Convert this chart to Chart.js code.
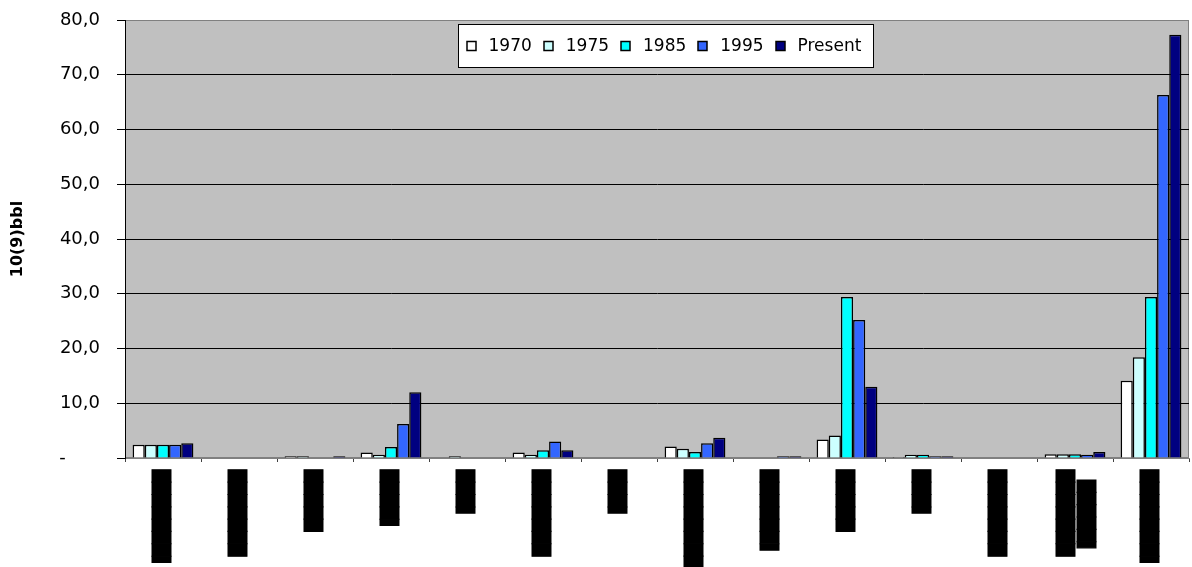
<!DOCTYPE html>
<html>
<head>
<meta charset="utf-8">
<script src="https://cdn.jsdelivr.net/npm/chart.js@4.4.1/dist/chart.umd.min.js"></script>
<style>
  html, body { margin: 0; padding: 0; background: #fff; }
  #wrap { width: 1192px; height: 567px; position: relative; }
</style>
</head>
<body>
<div id="wrap"><canvas id="chart"></canvas></div>
<script>
// category labels are unreadable in the source (solid black), kept as block glyphs
const categories = [
  '▐███████',
  '███████',
  '█████',
  '▐████',
  '▐███',
  '███████',
  '▐███',
  '████████',
  '▐██████',
  '█████',
  '▐███',
  '███████',
  ['███████', '▐█████\u00a0\u00a0'],
  '▐███████'
];

const yTicks = [0, 10, 20, 30, 40, 50, 60, 70, 80];

const v1970    = [2.4, 0, 0.3, 1.0, 0,   1.0, 0, 2.1, 0,   3.4,  0.2, 0, 0.7, 14.1];
const v1975    = [2.4, 0, 0.3, 0.6, 0.3, 0.6, 0, 1.7, 0,   4.1,  0.6, 0, 0.7, 18.4];
const v1985    = [2.4, 0, 0,   2.0, 0,   1.4, 0, 1.1, 0,   29.4, 0.6, 0, 0.7, 29.4];
const v1995    = [2.4, 0, 0,   6.2, 0,   3.0, 0, 2.7, 0.3, 25.2, 0.3, 0, 0.6, 66.3];
const vPresent = [2.7, 0, 0.3, 12.0, 0,  1.4, 0, 3.7, 0.3, 13.0, 0.3, 0, 1.1, 77.3];

const seriesNames = ['1970', '1975', '1985', '1995', 'Present'];
const seriesColors = ['#ffffff', '#ccffff', '#00ffff', '#3366ff', '#000080'];
const seriesValues = [v1970, v1975, v1985, v1995, vPresent];

const plotBg = {
  id: 'plotBg',
  beforeDraw(chart) {
    const { ctx, chartArea: a } = chart;
    ctx.save();
    ctx.fillStyle = '#c0c0c0';
    ctx.fillRect(a.left, a.top, a.right - a.left, a.bottom - a.top);
    ctx.strokeStyle = '#808080';
    ctx.lineWidth = 1;
    ctx.strokeRect(a.left + 0.5, a.top + 0.5, a.right - a.left - 1, a.bottom - a.top - 1);
    ctx.restore();

    // the two-line label sits centred on its tick in the source
    const xs = chart.scales.x;
    const items = xs.getLabelItems();
    items.forEach(it => {
      if (Array.isArray(it.label) && !it._shifted) {
        it.options.translation[0] -= 8;
        it._shifted = true;
      }
    });
  }
};

// legend drawn as a framed box inside the plot, like the source
const legendBox = {
  id: 'legendBox',
  afterDraw(chart) {
    const { ctx, chartArea: a } = chart;
    ctx.save();
    ctx.font = '17px "DejaVu Sans"';
    const items = chart.data.datasets.map(ds => ({
      text: ds.label,
      fill: ds.backgroundColor,
      w: ctx.measureText(ds.label).width
    }));
    const box = 9, toText = 13, gap = 12, padL = 8, padR = 12, h = 43;
    const inner = items.reduce((s, it) => s + box + toText + it.w, 0) + gap * (items.length - 1);
    const total = padL + inner + padR;
    const cx = (a.left + a.right) / 2 + 8;
    const x0 = Math.round(cx - total / 2) + 0.5;
    const y0 = Math.round(a.top + 4) + 0.5;
    ctx.fillStyle = '#ffffff';
    ctx.fillRect(x0, y0, total, h);
    ctx.strokeStyle = '#000000';
    ctx.lineWidth = 1;
    ctx.strokeRect(x0, y0, Math.round(total), h);
    let x = x0 + padL;
    const base = y0 + 26;
    items.forEach(it => {
      ctx.fillStyle = it.fill;
      ctx.fillRect(Math.round(x), base - box, box, box);
      ctx.lineWidth = 1.5;
      ctx.strokeRect(Math.round(x), base - box, box, box);
      ctx.fillStyle = '#000000';
      ctx.textBaseline = 'alphabetic';
      ctx.textAlign = 'left';
      ctx.fillText(it.text, x + box + toText, base);
      x += box + toText + it.w + gap;
    });
    ctx.restore();
  }
};

new Chart(document.getElementById('chart'), {
  type: 'bar',
  data: {
    labels: categories,
    datasets: seriesNames.map((name, i) => ({
      label: name,
      data: seriesValues[i],
      backgroundColor: seriesColors[i],
      borderColor: '#000000',
      borderWidth: 1.5,
      categoryPercentage: 0.8,
      barPercentage: 1.0
    }))
  },
  options: {
    responsive: true,
    maintainAspectRatio: false,
    animation: false,
    layout: { padding: { top: 20, right: 3, left: 0, bottom: 0 } },
    plugins: {
      tooltip: { enabled: false },
      legend: { display: false }
    },
    scales: {
      x: {
        offset: true,
        grid: {
          offset: true,
          drawOnChartArea: false,
          tickLength: 4,
          color: '#404040'
        },
        border: { color: '#808080', width: 1 },
        ticks: {
          autoSkip: false,
          minRotation: 90,
          maxRotation: 90,
          padding: 8,
          color: '#000000',
          textStrokeColor: '#000000',
          textStrokeWidth: 1,
          font: { family: 'DejaVu Sans', size: 16, lineHeight: 1.3 }
        },
        afterFit(scale) {
          scale.height = 109;
          scale.paddingLeft = 0;
          scale.paddingRight = 0;
        }
      },
      y: {
        min: 0,
        max: 80,
        afterBuildTicks(scale) { scale.ticks = yTicks.map(v => ({ value: v })); },
        grid: {
          color: ctx => (ctx.tick && (ctx.tick.value === 0 || ctx.tick.value === 80)) ? '#808080' : '#000000',
          tickColor: '#000000',
          tickLength: 8,
          lineWidth: 1
        },
        border: { color: '#000000', width: 1 },
        ticks: {
          padding: 17,
          color: '#000000',
          font: { family: 'DejaVu Sans', size: 18 },
          callback: v => v === 0 ? '-' + '\u00a0'.repeat(6) : v.toFixed(1).replace('.', ',')
        },
        title: {
          display: true,
          text: '10(9)bbl',
          color: '#000000',
          font: { family: 'DejaVu Sans', size: 16, weight: 'bold' },
          padding: { top: 8, bottom: 0 }
        },
        afterFit(scale) {
          scale.width = 125;
          scale.paddingTop = 0;
          scale.paddingBottom = 0;
        }
      }
    }
  },
  plugins: [plotBg, legendBox]
});
</script>
</body>
</html>
